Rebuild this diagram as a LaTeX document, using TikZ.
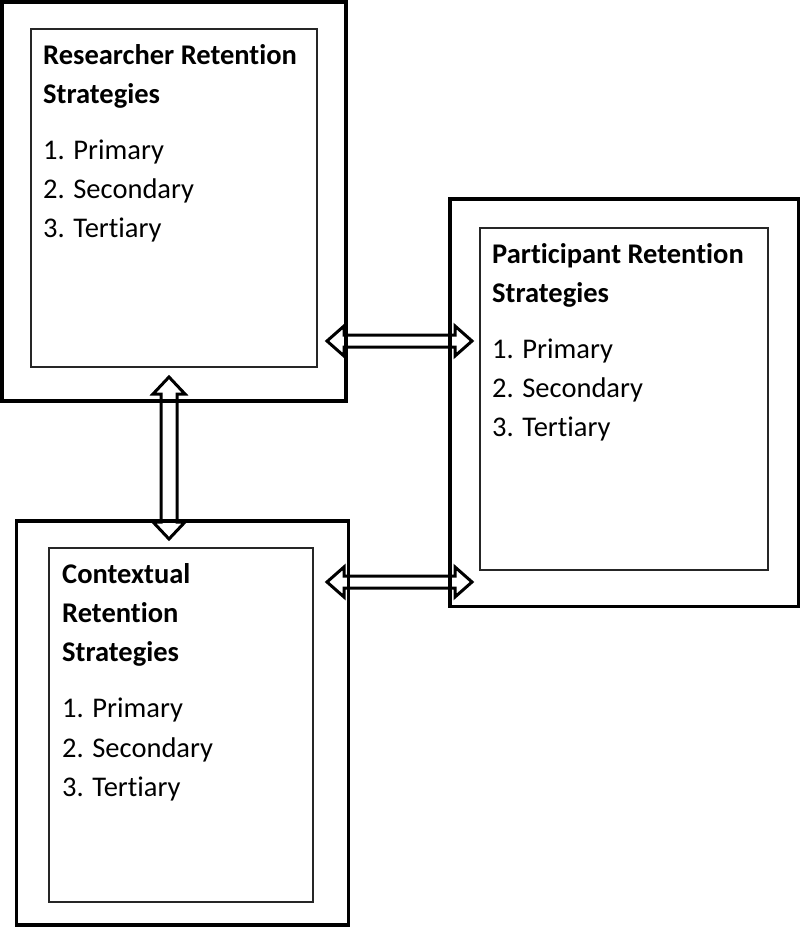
\documentclass[tikz,border=0pt]{standalone}
\usepackage{fontspec}
\setmainfont[Ligatures={NoCommon}]{Carlito}
\usetikzlibrary{calc}
\tikzset{
  outerbox/.style={draw=black, line width=3.5pt},
  innerbox/.style={draw=black!85, line width=1.1pt},
  blockarrow/.style={draw=black, fill=white, line width=3pt, line join=miter},
  head/.style={anchor=base west, inner sep=0pt, font=\fontsize{28.5}{32}\selectfont\bfseries},
  item/.style={anchor=base west, inner sep=0pt, font=\fontsize{28.5}{32}\selectfont},
}
\newcommand\hblockarrow[2]{%
  \draw[blockarrow] (#1) -- ++(17,-15) -- ++(0,9) -- ($(#2)+(-17,-6)$) -- ++(0,-9) -- (#2)
    -- ++(-17,15) -- ++(0,-9) -- ($(#1)+(17,6)$) -- ++(0,9) -- cycle;}
\newcommand\vblockarrow[2]{%
  \draw[blockarrow] (#1) -- ++(-16,17) -- ++(8,0) -- ($(#2)+(-8,-17)$) -- ++(-8,0) -- (#2)
    -- ++(16,-17) -- ++(-8,0) -- ($(#1)+(8,17)$) -- ++(8,0) -- cycle;}
\begin{document}
\begin{tikzpicture}[x=1pt,y=-1pt]
\useasboundingbox (0,0) rectangle (800,930);
% arrow end points
\coordinate (a1l) at (327,341);
\coordinate (a1r) at (472,341);
\coordinate (a2l) at (327,582);
\coordinate (a2r) at (472,582);
\coordinate (a3t) at (169,377);
\coordinate (a3b) at (169,539);
\hblockarrow{a1l}{a1r}
\hblockarrow{a2l}{a2r}
\vblockarrow{a3t}{a3b}
% boxes
\draw[outerbox] (2,2) coordinate (Rtl) rectangle (346,401) coordinate (Rbr);
\draw[innerbox] (31,29) rectangle (317,367);
\draw[outerbox] (450,199) coordinate (Ptl) rectangle (798.5,606.5) coordinate (Pbr);
\draw[innerbox] (480,228) rectangle (768,570);
\draw[outerbox] (16.5,521) coordinate (Ctl) rectangle (348.5,925) coordinate (Cbr);
\draw[innerbox] (49,548) rectangle (313,902);
% texts
\node[head] (rh1) at (43,64) {Researcher Retention};
\node[head] (rh2) at (43,103) {Strategies};
\node[item] (ri1) at (43,159) {1. Primary};
\node[item] (ri2) at (43,198) {2. Secondary};
\node[item] (ri3) at (43,237) {3. Tertiary};
\node[head] (ph1) at (492,263) {Participant Retention};
\node[head] (ph2) at (492,302) {Strategies};
\node[item] (pi1) at (492,358) {1. Primary};
\node[item] (pi2) at (492,397) {2. Secondary};
\node[item] (pi3) at (492,436) {3. Tertiary};
\node[head] (ch1) at (62,583) {Contextual};
\node[head] (ch2) at (62,622) {Retention};
\node[head] (ch3) at (62,661) {Strategies};
\node[item] (ci1) at (62,717) {1. Primary};
\node[item] (ci2) at (62,757) {2. Secondary};
\node[item] (ci3) at (62,796) {3. Tertiary};
\end{tikzpicture}
\end{document}
